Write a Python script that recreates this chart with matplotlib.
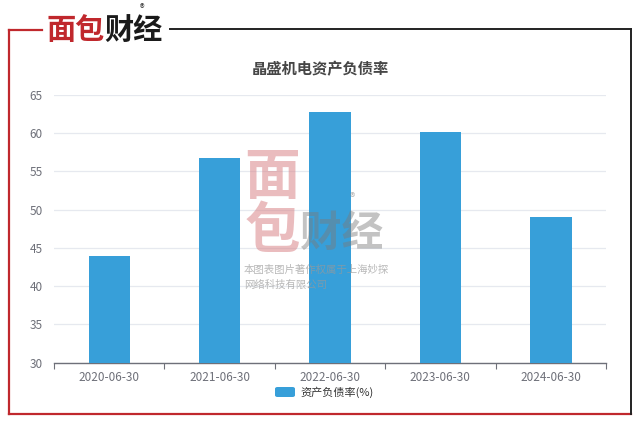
import matplotlib
matplotlib.use("Agg")
import matplotlib.pyplot as plt
from matplotlib.lines import Line2D
from matplotlib.patches import FancyBboxPatch

plt.rcParams['font.family'] = ['Noto Sans CJK SC', 'DejaVu Sans']

categories = ["2020-06-30", "2021-06-30", "2022-06-30", "2023-06-30", "2024-06-30"]
values = [43.9, 56.8, 62.8, 60.2, 49.0]
yticks = [30, 35, 40, 45, 50, 55, 60, 65]
title = "晶盛机电资产负债率"
series_name = "资产负债率(%)"

W, H = 640, 424
fig = plt.figure(figsize=(W / 100, H / 100), dpi=100)
fig.patch.set_facecolor("white")

def fx(px):
    return px / W

def fy(py):
    return 1 - py / H

# frame
fig.add_artist(Line2D([fx(9), fx(9)], [fy(30), fy(414)], color="#c0282d", lw=1.6))
fig.add_artist(Line2D([fx(9), fx(631)], [fy(414), fy(414)], color="#c0282d", lw=1.6))
fig.add_artist(Line2D([fx(9), fx(42)], [fy(30), fy(30)], color="#c0282d", lw=1.6))
fig.add_artist(Line2D([fx(170), fx(631)], [fy(29), fy(29)], color="#222222", lw=1.4))
fig.add_artist(Line2D([fx(631), fx(631)], [fy(29), fy(414)], color="#222222", lw=1.4))

# logo
fig.text(fx(46), fy(30), "面包", color="#c0282d", fontsize=21, fontweight="bold",
         ha="left", va="center")
fig.text(fx(104), fy(30), "财经", color="#1a1a1a", fontsize=21, fontweight="bold",
         ha="left", va="center")
fig.text(fx(142), fy(9), "®", color="#333333", fontsize=7, ha="center", va="center")

# axes
ax = fig.add_axes([fx(54), fy(362.5), fx(606) - fx(54), fy(95) - fy(362.5)])
x = list(range(len(categories)))
ax.bar(x, values, width=0.375, color="#379fd9", zorder=3)
ax.set_xlim(-0.5, len(categories) - 0.5)
ax.set_ylim(30, 65)
ax.set_yticks(yticks)
ax.grid(axis="y", color="#e6e9ef", lw=0.9, zorder=0)
for s in ["left", "right", "top"]:
    ax.spines[s].set_visible(False)
ax.spines["bottom"].set_color("#6e7079")
ax.spines["bottom"].set_linewidth(1.0)
ax.tick_params(axis="y", length=0, labelsize=8.5, labelcolor="#6e7079", pad=8)
ax.set_xticks([i - 0.5 for i in range(len(categories) + 1)])
ax.set_xticklabels([])
ax.tick_params(axis="x", which="major", length=4, color="#6e7079")
ax.set_xticks(x, minor=True)
ax.set_xticklabels(categories, minor=True)
ax.tick_params(axis="x", which="minor", length=0, labelsize=8.5, labelcolor="#6e7079", pad=6)

# title
fig.text(0.5, fy(69), title, ha="center", va="center", fontsize=11,
         fontweight="bold", color="#464646")

# legend
fig.add_artist(FancyBboxPatch((fx(275), fy(397)), fx(295) - fx(275), fy(387) - fy(397),
                              boxstyle="round,pad=0,rounding_size=0.004",
                              facecolor="#379fd9", edgecolor="none",
                              transform=fig.transFigure))
fig.text(fx(300), fy(392), series_name, ha="left", va="center", fontsize=8,
         color="#333333")

# watermark
fig.text(fx(272), fy(205), "面\n包", color="#d9868a", alpha=0.55, fontsize=40,
         fontweight="bold", ha="center", va="center", linespacing=0.95, zorder=10)
fig.text(fx(300), fy(234), "财经", color="#7a7a7a", alpha=0.45, fontsize=30,
         fontweight="bold", ha="left", va="center", zorder=10)
fig.text(fx(352), fy(198), "®", color="#888888", alpha=0.6, fontsize=8,
         ha="center", va="center", zorder=10)
fig.text(fx(244), fy(270), "本图表图片著作权属于上海妙探", color="#999999", alpha=0.7,
         fontsize=7.5, ha="left", va="center", zorder=10)
fig.text(fx(244), fy(285), "网络科技有限公司", color="#999999", alpha=0.7,
         fontsize=7.5, ha="left", va="center", zorder=10)

fig.savefig("out.png", dpi=100, facecolor="white")
